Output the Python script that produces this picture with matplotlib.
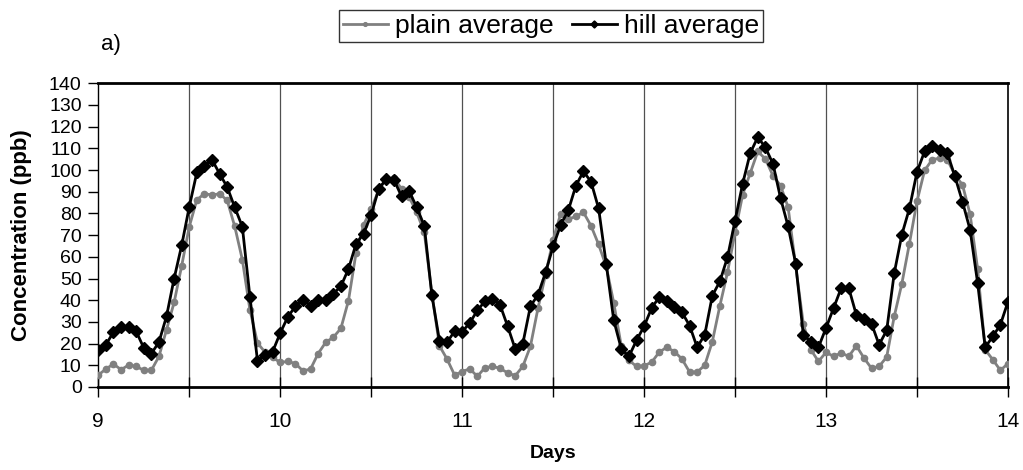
import numpy as np
import matplotlib
matplotlib.use("Agg")
from matplotlib import pyplot as plt

plt.rcParams['font.family'] = ['Liberation Sans', 'DejaVu Sans']

# hourly values, days 9 to 14
days = 9 + np.arange(121) / 24.0

plain_avg = [
    5.5, 8.3, 10.6, 8.0, 10.1, 9.5, 7.7, 7.7, 14.1, 26.4, 39.0, 55.9,
    73.9, 86.3, 89.1, 88.5, 89.1, 86.0, 74.0, 58.7, 35.6, 20.3, 16.0, 13.6,
    11.3, 11.8, 10.8, 7.4, 8.3, 15.4, 20.6, 22.9, 27.0, 39.8, 61.8, 74.7,
    82.2, 90.9, 95.9, 96.2, 91.4, 87.6, 80.5, 71.3, 43.3, 19.0, 12.9, 5.5,
    7.1, 8.4, 4.9, 8.9, 9.5, 8.6, 6.5, 5.2, 9.5, 18.7, 36.3, 51.8,
    67.9, 79.9, 77.4, 78.6, 80.5, 74.3, 65.7, 55.6, 38.7, 18.7, 12.3, 9.5,
    9.8, 11.4, 16.1, 18.3, 16.3, 12.9, 6.9, 6.9, 10.0, 20.9, 37.5, 52.8,
    71.3, 88.6, 98.6, 108.6, 105.1, 97.4, 92.8, 82.8, 55.6, 29.2, 17.2, 11.8,
    16.0, 14.1, 15.7, 14.1, 19.0, 13.4, 8.6, 9.5, 13.8, 32.6, 47.6, 66.1,
    85.6, 99.8, 104.8, 105.5, 104.8, 97.8, 93.2, 79.7, 54.4, 17.2, 12.6, 7.7,
    10.8,
]

hill_avg = [
    17.2, 19.5, 25.3, 27.8, 27.8, 25.6, 18.0, 15.4, 20.7, 32.6, 50.0, 65.3,
    83.1, 98.9, 102.0, 104.8, 98.3, 92.2, 82.8, 73.9, 41.6, 12.1, 14.6, 16.3,
    24.9, 32.3, 37.2, 40.2, 37.5, 40.2, 40.2, 43.0, 46.4, 54.4, 66.0, 70.7,
    79.4, 91.4, 95.9, 95.5, 87.9, 90.3, 82.9, 74.3, 42.4, 21.4, 20.6, 25.7,
    25.5, 29.5, 35.3, 39.5, 40.7, 37.8, 28.0, 17.5, 20.0, 37.2, 42.5, 52.8,
    64.8, 74.8, 81.4, 92.8, 99.4, 94.6, 82.3, 56.8, 30.7, 17.5, 14.1, 21.5,
    28.0, 36.4, 41.5, 39.5, 36.7, 34.4, 28.3, 18.3, 24.1, 42.1, 48.7, 59.8,
    76.7, 93.7, 107.8, 115.2, 110.4, 102.9, 87.1, 74.0, 56.8, 24.1, 20.8, 18.3,
    27.2, 36.4, 45.6, 45.6, 33.2, 31.3, 29.2, 19.5, 26.1, 52.5, 70.2, 82.3,
    99.1, 108.6, 111.2, 109.1, 107.8, 97.1, 85.4, 72.5, 47.9, 18.3, 23.3, 28.7,
    39.3,
]

fig = plt.figure(figsize=(10.23, 4.70), dpi=100)
ax = fig.add_axes([0.0961, 0.1766, 0.8892, 0.6462])

# half-day separators
for d in np.arange(9.5, 14, 0.5):
    ax.axvline(d, color='#505050', lw=0.9, zorder=1)

ax.plot(days, plain_avg, color='#808080', lw=2, marker='o', ms=4.5,
        label='plain average', zorder=3)
ax.plot(days, hill_avg, color='black', lw=2, marker='D', ms=6,
        label='hill average', zorder=4)

ax.set_xlim(9, 14)
ax.set_ylim(0, 140)
ax.set_xticks(np.arange(9, 15, 1))
ax.set_xticks(np.arange(9, 14.01, 0.5), minor=True)
ax.set_yticks(np.arange(0, 141, 10))
ax.tick_params(axis='x', which='both', direction='inout', length=14, width=1,
               labelsize=15, pad=11)
ax.tick_params(axis='y', direction='out', length=7, width=1, labelsize=14, pad=5)

ax.spines['bottom'].set_linewidth(2)
ax.spines['top'].set_linewidth(2)
ax.spines['left'].set_linewidth(1)
ax.spines['right'].set_linewidth(1.2)

ax.set_xlabel('Days', fontsize=14, fontweight='bold', va='top')
ax.xaxis.set_label_coords(0.5, -0.191)
ax.set_ylabel('Concentration (ppb)', fontsize=16, fontweight='bold')
ax.yaxis.set_label_coords(-0.0725, 0.5)

fig.text(0.1085, 0.906, 'a)', fontsize=16, va='center', ha='center')

leg = fig.legend(loc='center', bbox_to_anchor=(0.5386, 0.9447), ncol=2,
                 fontsize=19, frameon=True, fancybox=False, edgecolor='black',
                 handlelength=1.7, handletextpad=0.27, columnspacing=0.7,
                 borderpad=0.15, borderaxespad=0, markerscale=0.6)
leg.get_frame().set_linewidth(1)

fig.savefig('out.png', dpi=100)
